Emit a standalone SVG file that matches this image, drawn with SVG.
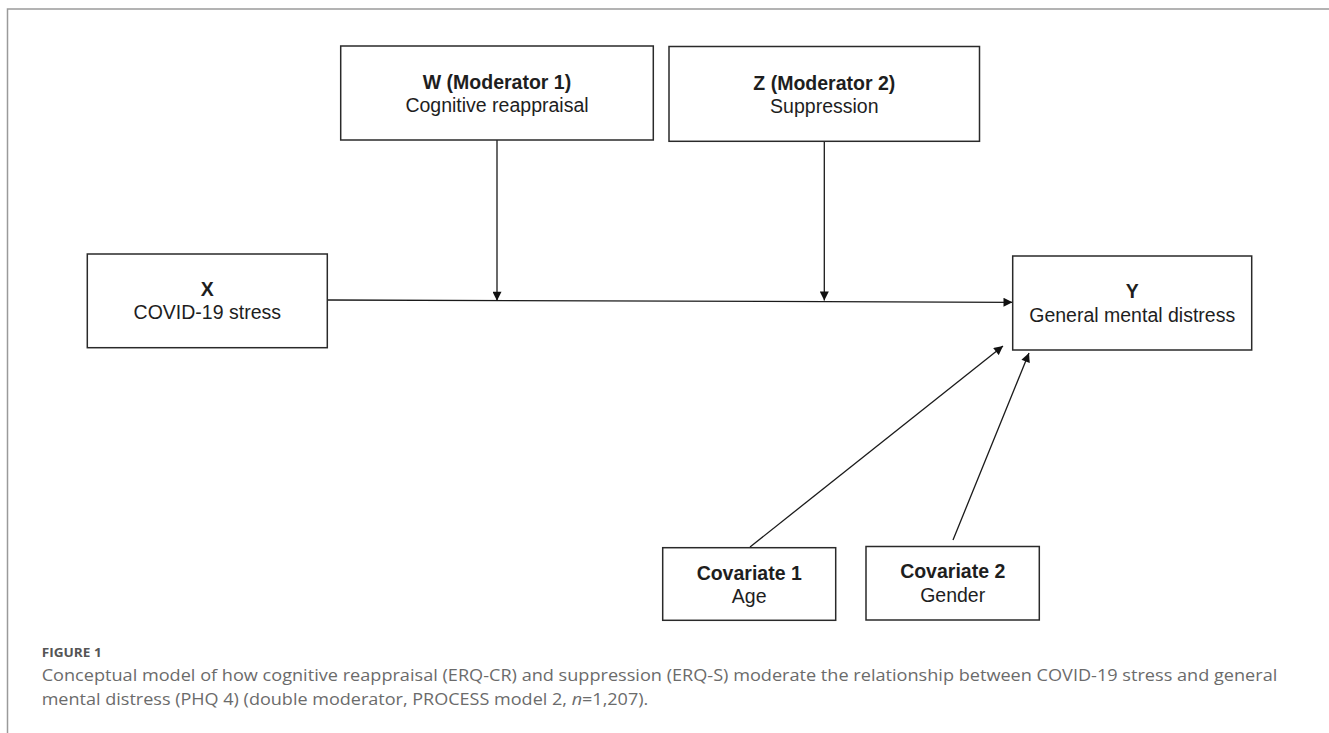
<svg xmlns="http://www.w3.org/2000/svg" width="1329" height="733" viewBox="0 0 1329 733">
  <defs>
    <marker id="arrow" viewBox="0 0 10 10" markerWidth="10" markerHeight="9" refX="10" refY="5" orient="auto" markerUnits="userSpaceOnUse">
      <path d="M0,0 L10,5 L0,10 z" fill="#111"/>
    </marker>
  </defs>
  <style>
    .box { fill: #fff; stroke: #2a2a2a; stroke-width: 1.5; }
    .t { font-family: "Liberation Sans", Arial, sans-serif; font-size: 19.5px; fill: #1e1e1e; text-anchor: middle; }
    .b { font-weight: bold; }
    .edge { stroke: #1a1a1a; stroke-width: 1.3; fill: none; marker-end: url(#arrow); }
    .cap { font-family: "Open Sans", "Noto Sans", sans-serif; fill: #6b6b6b; font-size: 16.5px; }
    .fig { font-family: "Open Sans", "Noto Sans", sans-serif; fill: #555; font-size: 12.5px; font-weight: bold; }
  </style>
  <rect x="0" y="0" width="1329" height="733" fill="#fff"/>
  <path d="M7.5,733 L7.5,9 L1329,9" fill="none" stroke="#9a9a9a" stroke-width="1.5"/>

  <g id="connectors">
    <path class="edge" d="M327.3,300 L1012.5,302.3"/>
    <path class="edge" d="M497,140 L497,300.7"/>
    <path class="edge" d="M824.3,141.3 L824.3,300.5"/>
    <path class="edge" d="M750,547 L1003,346"/>
    <path class="edge" d="M953,540 L1029,353"/>
  </g>

  <g id="node-x">
    <rect class="box" x="87.3" y="254" width="240" height="93.7"/>
    <text class="t b" x="207.3" y="296">X</text>
    <text class="t" x="207.3" y="319.3">COVID-19 stress</text>
  </g>
  <g id="node-w">
    <rect class="box" x="340.7" y="46" width="312.6" height="94"/>
    <text class="t b" x="497" y="89">W (Moderator 1)</text>
    <text class="t" x="497" y="112">Cognitive reappraisal</text>
  </g>
  <g id="node-z">
    <rect class="box" x="669" y="46.5" width="310.5" height="94.8"/>
    <text class="t b" x="824.3" y="90">Z (Moderator 2)</text>
    <text class="t" x="824.3" y="112.7">Suppression</text>
  </g>
  <g id="node-y">
    <rect class="box" x="1012.7" y="256" width="239" height="94"/>
    <text class="t b" x="1132.2" y="298.3">Y</text>
    <text class="t" x="1132.2" y="321.7">General mental distress</text>
  </g>
  <g id="node-cov1">
    <rect class="box" x="662.7" y="547.7" width="173" height="72.6"/>
    <text class="t b" x="749.2" y="580">Covariate 1</text>
    <text class="t" x="749.2" y="603">Age</text>
  </g>
  <g id="node-cov2">
    <rect class="box" x="866" y="546.5" width="173.3" height="73.5"/>
    <text class="t b" x="952.7" y="578.3">Covariate 2</text>
    <text class="t" x="952.7" y="601.7">Gender</text>
  </g>

  <g id="caption">
    <text class="fig" x="41.7" y="656.7" textLength="60" lengthAdjust="spacingAndGlyphs">FIGURE 1</text>
    <text class="cap" x="41.7" y="680.5" textLength="1235.6" lengthAdjust="spacingAndGlyphs">Conceptual model of how cognitive reappraisal (ERQ-CR) and suppression (ERQ-S) moderate the relationship between COVID-19 stress and general</text>
    <text class="cap" x="41.7" y="704.5" textLength="606.6" lengthAdjust="spacingAndGlyphs">mental distress (PHQ 4) (double moderator, PROCESS model 2, <tspan font-style="italic">n</tspan>=1,207).</text>
  </g>
</svg>
